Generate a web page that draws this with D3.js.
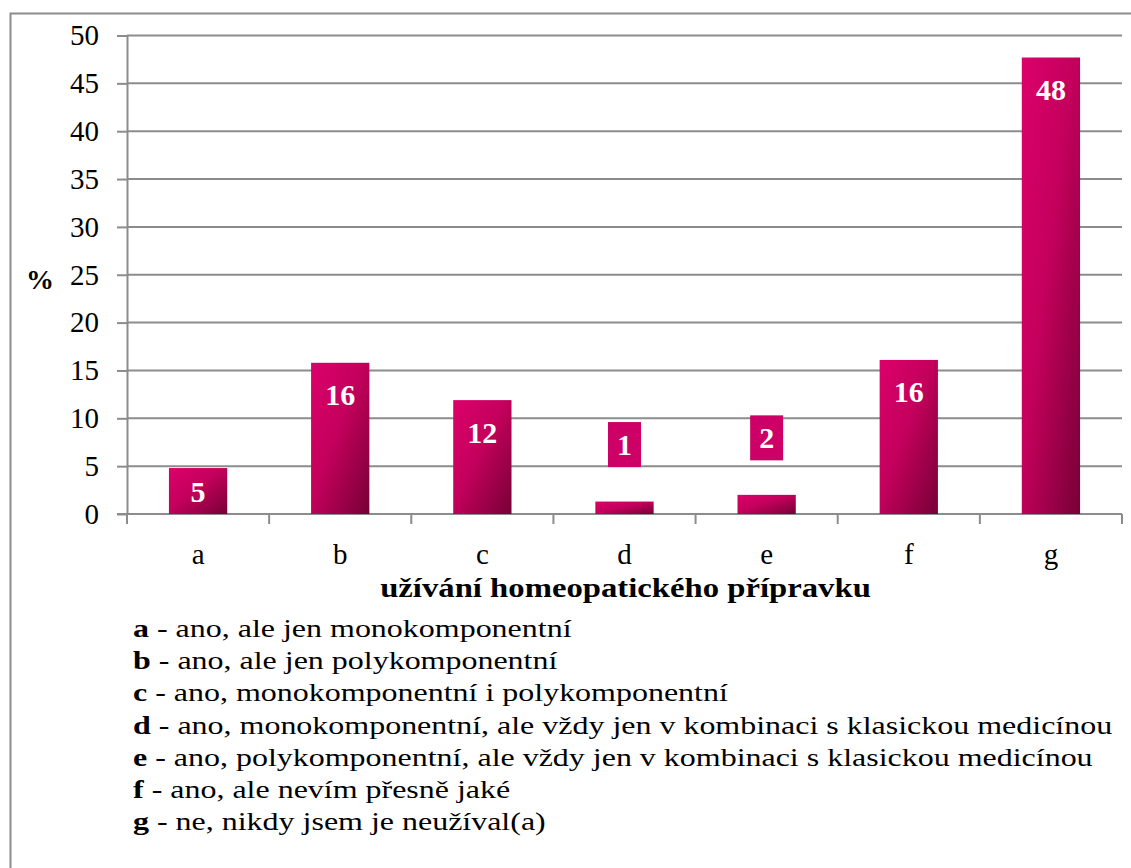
<!DOCTYPE html>
<html>
<head>
<meta charset="UTF-8">
<script src="https://cdn.jsdelivr.net/npm/d3@7"></script>
</head>
<body style="margin:0">
<script>
// data
const categories = ["a", "b", "c", "d", "e", "f", "g"];
const values = [4.8, 15.8, 11.9, 1.3, 2.0, 16.1, 47.7];
const yTicks = [0, 5, 10, 15, 20, 25, 30, 35, 40, 45, 50];
const legendKeys = ["a", "b", "c", "d", "e", "f", "g"];
const legendTexts = [
  " - ano, ale jen monokomponentní",
  " - ano, ale jen polykomponentní",
  " - ano, monokomponentní i polykomponentní",
  " - ano, monokomponentní, ale vždy jen v kombinaci s klasickou medicínou",
  " - ano, polykomponentní, ale vždy jen v kombinaci s klasickou medicínou",
  " - ano, ale nevím přesně jaké",
  " - ne, nikdy jsem je neužíval(a)"
];
const xTitle = "užívání homeopatického přípravku";
const yTitle = "%";

const W = 1131, H = 868;
const FONT = "Liberation Serif";
const GRID = "#8c8c8c";
const plot = { left: 127, right: 1122, top: 35.5, bottom: 514 };

const svg = d3.select("body").append("svg")
  .attr("width", W)
  .attr("height", H);

// bar gradient, diagonal across each bar
const grad = svg.append("defs").append("linearGradient")
  .attr("id", "barGrad")
  .attr("x1", 0).attr("y1", 0).attr("x2", 1).attr("y2", 1);
grad.append("stop").attr("offset", "0%").attr("stop-color", "#dc006b");
grad.append("stop").attr("offset", "45%").attr("stop-color", "#c4005c");
grad.append("stop").attr("offset", "100%").attr("stop-color", "#760036");

// outer frame (only top and left fall inside the picture)
svg.append("rect")
  .attr("x", 10.5).attr("y", 13.5)
  .attr("width", W + 20).attr("height", H + 20)
  .attr("fill", "none")
  .attr("stroke", GRID)
  .attr("stroke-width", 2);

const y = d3.scaleLinear().domain([0, 50]).range([plot.bottom, plot.top]);
const x = d3.scaleBand().domain(categories)
  .range([plot.left, plot.right])
  .paddingInner(0.59).paddingOuter(0.295);

// gridlines
svg.append("g")
  .selectAll("line").data(yTicks.filter(d => d > 0))
  .enter().append("line")
  .attr("x1", plot.left).attr("x2", plot.right)
  .attr("y1", d => y(d)).attr("y2", d => y(d))
  .attr("stroke", GRID).attr("stroke-width", 2);

// y axis
const yAxis = svg.append("g")
  .attr("transform", "translate(" + plot.left + ",0)")
  .call(d3.axisLeft(y).tickValues(yTicks).tickSize(10).tickSizeOuter(0).tickPadding(18));
yAxis.selectAll("path, line").attr("stroke", GRID).attr("stroke-width", 2);
yAxis.attr("font-family", null).attr("font-size", null);
yAxis.selectAll("text")
  .style("font-family", FONT).style("font-size", "29px").attr("fill", "#000");

// x axis: baseline + boundary ticks
const xg = svg.append("g");
xg.append("line")
  .attr("x1", plot.left - 10).attr("x2", plot.right)
  .attr("y1", plot.bottom).attr("y2", plot.bottom)
  .attr("stroke", GRID).attr("stroke-width", 2);
xg.selectAll(".bt").data(d3.range(categories.length + 1))
  .enter().append("line")
  .attr("class", "bt")
  .attr("x1", i => plot.left + i * x.step())
  .attr("x2", i => plot.left + i * x.step())
  .attr("y1", plot.bottom).attr("y2", plot.bottom + 10)
  .attr("stroke", GRID).attr("stroke-width", 2);
xg.selectAll(".cat").data(categories)
  .enter().append("text")
  .attr("class", "cat")
  .attr("x", d => x(d) + x.bandwidth() / 2)
  .attr("y", 564)
  .attr("text-anchor", "middle")
  .style("font-family", FONT).style("font-size", "29px")
  .text(d => d);

// bars
const data = categories.map((c, i) => ({ cat: c, v: values[i] }));
svg.append("g").selectAll("rect").data(data)
  .enter().append("rect")
  .attr("x", d => x(d.cat))
  .attr("y", d => y(d.v))
  .attr("width", x.bandwidth())
  .attr("height", d => y(0) - y(d.v))
  .attr("fill", "url(#barGrad)");

// value labels
const labels = svg.append("g").selectAll("g").data(data)
  .enter().append("g")
  .attr("transform", d => {
    const h = y(0) - y(d.v);
    let cy;
    if (h < 30) cy = y(d.v) - 57;
    else if (h < 64) cy = y(d.v) + h / 2;
    else cy = y(d.v) + 32;
    return "translate(" + (x(d.cat) + x.bandwidth() / 2) + "," + cy + ")";
  });
labels.filter(d => y(0) - y(d.v) < 30)
  .append("rect")
  .attr("x", -16.5).attr("y", -22.5)
  .attr("width", 33).attr("height", 45)
  .attr("fill", "#cc0066");
labels.append("text")
  .attr("text-anchor", "middle")
  .attr("dy", "0.35em")
  .attr("fill", "#fff")
  .style("font-family", FONT).style("font-size", "30px")
  .style("font-weight", "bold")
  .text(d => Math.round(d.v));

// axis titles; the x title is widened to the original's span
const xt = svg.append("text")
  .attr("x", 0).attr("y", 0)
  .attr("text-anchor", "middle")
  .style("font-family", FONT).style("font-size", "28px").style("font-weight", "bold")
  .text(xTitle);
const xtScale = 491 / xt.node().getComputedTextLength();
xt.attr("transform", "translate(625.5,597) scale(" + xtScale + ",1)");
svg.append("text")
  .attr("x", 40).attr("y", 289)
  .attr("text-anchor", "middle")
  .style("font-family", FONT).style("font-size", "28px").style("font-weight", "bold")
  .text(yTitle);

// legend, stretched a little sideways like the original
const legend = svg.append("g");
const lg = legend.selectAll("text").data(legendKeys)
  .enter().append("text")
  .attr("x", 0)
  .attr("y", (d, i) => 637 + i * 32.2)
  .style("font-family", FONT).style("font-size", "26px");
lg.append("tspan").style("font-weight", "bold").text(d => d);
lg.append("tspan").text((d, i) => legendTexts[i]);
const longest = d3.max(lg.nodes(), n => n.getComputedTextLength());
legend.attr("transform", "translate(133,0) scale(" + (980 / longest) + ",1)");
</script>
</body>
</html>
